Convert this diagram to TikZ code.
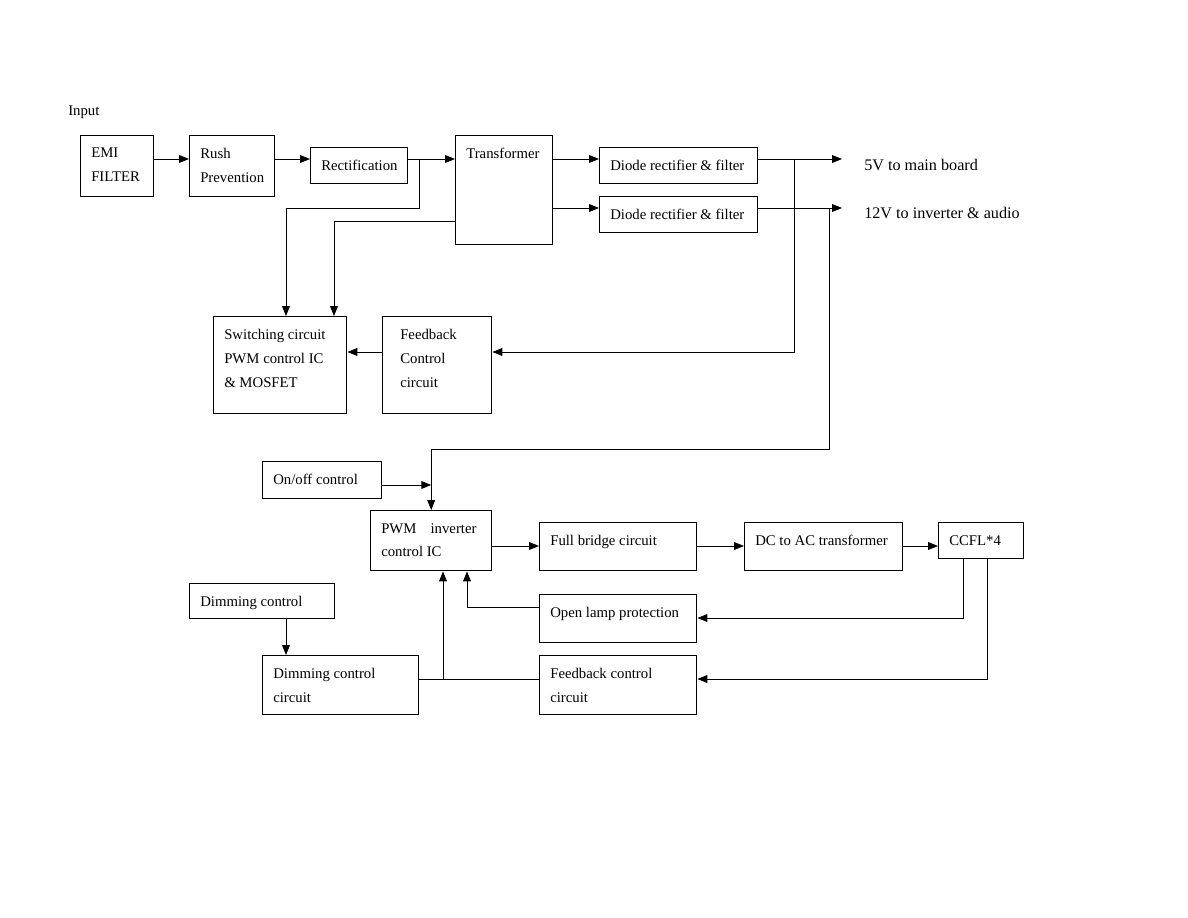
\documentclass[tikz,border=0pt]{standalone}
\usepackage{fontspec}
\setmainfont{Liberation Serif}
\usetikzlibrary{arrows.meta}
\newcommand{\pxu}{0.025cm}
\tikzset{
  blk/.style 2 args={draw, line width=1pt, anchor=north west, inner sep=0pt,
    minimum width=#1*\pxu, minimum height=#2*\pxu},
  txt/.style={anchor=north west, inner sep=0pt, align=left,
    xshift=11*\pxu, yshift=-13*\pxu, font=\fontsize{10.5}{17}\selectfont},
  outtxt/.style={anchor=west, inner sep=0pt, font=\fontsize{11.5}{14}\selectfont},
  conn/.style={line width=0.6pt},
  arr/.style={conn, -{Triangle[length=7pt,width=5.5pt]}},
}
\begin{document}
\begin{tikzpicture}[x=\pxu, y=-\pxu]
  \useasboundingbox (0,0) rectangle (1188,918);

  % Power board
  \node[anchor=west, inner sep=0pt, font=\fontsize{10.5}{17}\selectfont] (input) at (68,112) {Input};
  \node[blk={73}{61}, label={[txt]north west:EMI\\FILTER}] (emi) at (80,135) {};
  \node[blk={85}{61}, label={[txt]north west:Rush\\Prevention}] (rush) at (189,135) {};
  \node[blk={97}{36}, label={[txt]north west:Rectification}] (rect) at (310,147) {};
  \node[blk={97}{109}, label={[txt]north west:Transformer}] (trf) at (455,135) {};
  \node[blk={158}{36}, label={[txt]north west:Diode rectifier \& filter}] (dio1) at (599,147) {};
  \node[blk={158}{36}, label={[txt]north west:Diode rectifier \& filter}] (dio2) at (599,196) {};
  \node[outtxt] (v5) at (864,165) {5V to main board};
  \node[outtxt] (v12) at (864,213) {12V to inverter \& audio};
  \coordinate (o5) at (842,159);
  \coordinate (o12) at (842,208);
  \node[blk={133}{97}, label={[txt]north west:Switching circuit\\PWM control IC\\\& MOSFET}] (sw) at (213,316) {};
  \node[blk={109}{97}, label={[txt, xshift=7*\pxu]north west:Feedback\\Control\\circuit}] (fbk) at (382,316) {};

  % Inverter
  \node[blk={119}{37}, label={[txt]north west:On/off control}] (onoff) at (262,461) {};
  \node[blk={121}{60}, label={[txt]north west:PWM\hspace{10pt}inverter\\control IC}] (pwm) at (370,510) {};
  \node[blk={157}{48}, label={[txt]north west:Full bridge circuit}] (fbr) at (539,522) {};
  \node[blk={158}{48}, label={[txt]north west:DC to AC transformer}] (dcac) at (744,522) {};
  \node[blk={85}{36}, label={[txt]north west:CCFL*4}] (ccfl) at (938,522) {};
  \node[blk={145}{35}, label={[txt]north west:Dimming control}] (dim) at (189,583) {};
  \node[blk={157}{48}, label={[txt]north west:Open lamp protection}] (olp) at (539,594) {};
  \node[blk={156}{59}, label={[txt]north west:Dimming control\\circuit}] (dcc) at (262,655) {};
  \node[blk={157}{59}, label={[txt]north west:Feedback control\\circuit}] (fcc) at (539,655) {};

  % Connectors, power board
  \draw[arr] (emi.east |- 0,159) -- (rush.west |- 0,159);
  \draw[arr] (rush.east |- 0,159) -- (rect.west |- 0,159);
  \draw[arr] (rect.east |- 0,159) -- (trf.west |- 0,159);
  \draw[arr] (trf.east |- 0,159) -- (dio1.west |- 0,159);
  \draw[arr] (trf.east |- 0,208) -- (dio2.west |- 0,208);
  \draw[arr] (dio1.east |- 0,159) -- (o5);
  \draw[arr] (dio2.east |- 0,208) -- (o12);
  \draw[arr] (419,159) |- (286,208) -- (286,0 |- sw.north);
  \draw[arr] (trf.west |- 0,221) -| (334,0 |- sw.north);
  \draw[arr] (794,159) |- (fbk.east |- 0,352);
  \draw[arr] (fbk.west |- 0,352) -- (sw.east |- 0,352);

  % Connectors, inverter
  \draw[arr] (829,208) |- (pwm.north |- 0,449) -- (pwm.north);
  \draw[arr] (onoff.east |- 0,485) -- (pwm.north |- 0,485);
  \draw[arr] (pwm.east |- 0,546) -- (fbr.west |- 0,546);
  \draw[arr] (fbr.east |- 0,546) -- (dcac.west |- 0,546);
  \draw[arr] (dcac.east |- 0,546) -- (ccfl.west |- 0,546);
  \draw[arr] (963,0 |- ccfl.south) |- (olp.east |- 0,618);
  \draw[arr] (987,0 |- ccfl.south) |- (fcc.east |- 0,679);
  \draw[arr] (olp.west |- 0,607) -| (467,0 |- pwm.south);
  \draw[conn] (dcc.east |- 0,679) -- (fcc.west |- 0,679);
  \draw[arr] (443,679) -- (443,0 |- pwm.south);
  \draw[arr] (286,0 |- dim.south) -- (286,0 |- dcc.north);
\end{tikzpicture}
\end{document}
